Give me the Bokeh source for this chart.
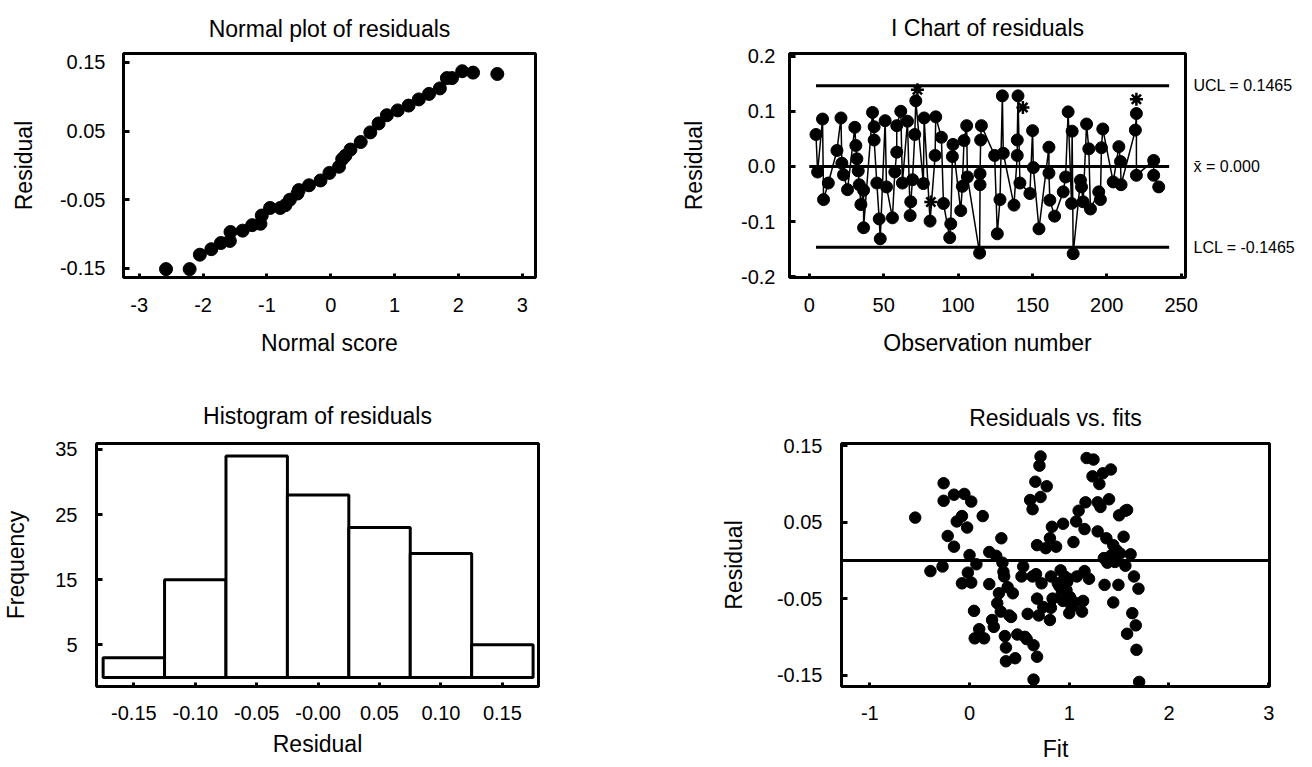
from bokeh.plotting import figure
from bokeh.models import (Range1d, FixedTicker, PrintfTickFormatter, Span, LinearAxis,
                          ColumnDataSource)
from bokeh.layouts import column, row
from bokeh.embed import file_html
from bokeh.resources import INLINE

FONT = "Liberation Sans"

# ---------------- data ----------------
# Normal probability plot
normal_score = [-2.58, -2.21, -2.05, -1.87, -1.72, -1.58, -1.57, -1.38, -1.23, -1.10,
                -1.08, -0.95, -0.79, -0.71, -0.64, -0.52, -0.50, -0.34, -0.16, -0.02,
                0.13, 0.18, 0.23, 0.31, 0.47, 0.62, 0.75, 0.88, 1.05, 1.22,
                1.38, 1.54, 1.71, 1.82, 1.90, 2.06, 2.23, 2.61]
normal_resid = [-0.151, -0.151, -0.130, -0.122, -0.113, -0.110, -0.097, -0.095, -0.087, -0.085,
                -0.073, -0.062, -0.062, -0.058, -0.050, -0.041, -0.036, -0.029, -0.022, -0.011,
                -0.002, 0.009, 0.014, 0.023, 0.034, 0.048, 0.061, 0.073, 0.080, 0.087,
                0.096, 0.104, 0.112, 0.127, 0.127, 0.137, 0.135, 0.133]

# I chart
obs_number = [4.5, 5.6, 8.9, 9.6, 12.8, 18.6, 21.3, 21.9, 23.0, 25.7,
              30.6, 31.3, 32.0, 32.9, 33.6, 34.7, 36.5, 36.5, 42.5, 43.6,
              43.6, 45.4, 47.0, 47.7, 51.0, 51.9, 55.9, 57.5, 58.8, 58.8,
              61.5, 62.6, 66.0, 67.8, 68.2, 69.4, 70.9, 71.6, 76.7, 77.2,
              81.2, 84.6, 85.0, 88.8, 90.2, 94.4, 95.1, 96.2, 96.6, 101.8,
              102.9, 104.0, 105.8, 106.3, 114.5, 114.8, 114.8, 115.2, 115.7, 124.6,
              126.4, 128.2, 129.8, 130.4, 137.6, 139.8, 139.8, 140.3, 141.6, 148.3,
              150.1, 150.6, 154.4, 161.1, 161.1, 161.7, 164.9, 170.7, 172.3, 174.0,
              176.3, 176.7, 177.4, 182.3, 183.0, 184.1, 186.4, 187.9, 189.0, 194.6,
              195.7, 196.4, 197.3, 204.3, 208.1, 209.2, 209.6, 219.2, 219.9, 219.9,
              231.5, 231.5, 234.9]
obs_resid = [0.058, -0.010, 0.086, -0.060, -0.030, 0.029, 0.088, 0.006, -0.015, -0.042,
             0.071, 0.038, 0.014, -0.008, -0.033, -0.069, -0.043, -0.111, 0.098, 0.072,
             0.048, -0.030, -0.095, -0.131, 0.083, -0.037, -0.093, -0.010, 0.026, 0.074,
             0.100, -0.030, 0.082, -0.089, -0.064, -0.024, 0.058, 0.119, -0.031, 0.088,
             -0.099, 0.020, 0.090, 0.053, -0.067, -0.129, -0.104, 0.018, 0.040, -0.080,
             -0.036, 0.047, 0.074, -0.019, -0.157, -0.033, -0.013, 0.048, 0.074, 0.020,
             -0.122, -0.060, 0.128, 0.024, -0.070, 0.020, 0.048, 0.128, -0.030, -0.049,
             0.065, -0.002, -0.113, 0.035, -0.012, -0.061, -0.090, -0.046, -0.019, 0.099,
             -0.067, 0.064, -0.158, -0.025, -0.037, -0.064, 0.077, 0.032, -0.077, -0.046,
             -0.060, 0.034, 0.068, -0.028, 0.036, 0.009, -0.033, 0.066, 0.096, -0.016,
             0.011, -0.016, -0.037]
flag_obs = [72.7, 81.7, 143.6, 219.9]
flag_resid = [0.139, -0.0645, 0.107, 0.122]
UCL = 0.1465
CL = 0.0
LCL = -0.1465
control_labels = ["UCL = 0.1465", "x\u0304 = 0.000", "LCL = -0.1465"]

# Histogram
bin_centers = [-0.15, -0.10, -0.05, 0.0, 0.05, 0.10, 0.15]
bin_width = 0.05
bin_freq = [3, 15, 34, 28, 23, 19, 5]

# Residuals vs fits
fits = [-0.545, -0.392, -0.271, -0.260, -0.260, -0.219, -0.156, -0.156, -0.128, -0.076,
        -0.052, -0.024, 0.017, -0.076, -0.017, 0.000, 0.017, 0.069, 0.132, 0.045,
        0.052, 0.097, 0.146, 0.198, 0.198, 0.226, 0.243, 0.267, 0.278, 0.295,
        0.313, 0.319, 0.330, 0.340, 0.347, 0.354, 0.365, 0.365, 0.382, 0.399,
        0.417, 0.434, 0.458, 0.479, 0.521, 0.538, 0.556, 0.573, 0.583, 0.608,
        0.632, 0.632, 0.642, 0.642, 0.660, 0.667, 0.677, 0.677, 0.677, 0.694,
        0.701, 0.712, 0.712, 0.722, 0.740, 0.764, 0.774, 0.806, 0.816, 0.816,
        0.826, 0.806, 0.833, 0.868, 0.885, 0.903, 0.913, 0.927, 0.938, 0.938,
        0.955, 0.972, 0.979, 0.990, 1.000, 1.007, 1.024, 1.042, 1.052, 1.069,
        1.076, 1.094, 1.128, 1.139, 1.153, 1.153, 1.163, 1.198, 1.174, 1.233,
        1.243, 1.285, 1.285, 1.302, 1.313, 1.337, 1.347, 1.354, 1.372, 1.382,
        1.399, 1.417, 1.424, 1.441, 1.441, 1.458, 1.476, 1.493, 1.500, 1.510,
        1.545, 1.563, 1.563, 1.580, 1.580, 1.615, 1.632, 1.649, 1.667, 1.674,
        1.694, 1.701]
fit_resid = [0.056, -0.014, -0.008, 0.101, 0.078, 0.032, 0.086, 0.018, 0.051, 0.058,
             0.087, 0.043, 0.077, -0.030, -0.016, 0.007, -0.029, -0.005, 0.058, -0.066,
             -0.102, -0.090, -0.102, 0.011, -0.031, -0.078, -0.087, 0.006, -0.056, -0.043,
             -0.067, 0.029, -0.003, -0.015, -0.021, -0.099, -0.114, -0.132, -0.035, -0.072,
             -0.074, -0.043, -0.128, -0.097, -0.021, -0.008, -0.100, -0.103, -0.070, 0.079,
             0.067, -0.021, -0.111, -0.156, 0.103, -0.018, -0.126, -0.050, 0.020, -0.072,
             0.124, 0.136, 0.083, -0.030, -0.061, 0.016, 0.097, 0.029, -0.021, -0.062,
             0.044, -0.078, -0.050, 0.018, -0.030, -0.034, -0.013, -0.042, 0.048, -0.053,
             -0.021, -0.039, -0.028, -0.024, -0.069, -0.048, -0.061, 0.024, -0.055, 0.051,
             -0.021, 0.065, -0.067, -0.053, 0.041, -0.014, 0.076, -0.024, 0.134, 0.110,
             0.132, 0.038, 0.076, 0.100, 0.070, 0.114, 0.003, -0.032, 0.029, -0.003,
             0.080, 0.119, 0.007, 0.020, -0.055, -0.002, 0.013, -0.032, 0.059, 0.009,
             0.031, 0.065, -0.007, 0.066, -0.096, 0.008, -0.069, -0.021, -0.085, -0.117,
             -0.037, -0.159]

# tick values
p1_xticks = [-3, -2, -1, 0, 1, 2, 3]
p1_yticks = [-0.15, -0.05, 0.05, 0.15]
p2_xticks = [0, 50, 100, 150, 200, 250]
p2_yticks = [-0.2, -0.1, 0.0, 0.1, 0.2]
p3_xticks = [-0.15, -0.10, -0.05, 0.0, 0.05, 0.10, 0.15]
p3_yticks = [5, 15, 25, 35]
p4_xticks = [-1, 0, 1, 2, 3]
p4_yticks = [-0.15, -0.05, 0.05, 0.15]


def make_fig(title, w, h, xr, yr, borders, title_standoff):
    p = figure(width=w, height=h, title=title,
               x_range=Range1d(*xr), y_range=Range1d(*yr),
               output_backend="svg", toolbar_location=None,
               min_border_left=borders[0], min_border_right=borders[1],
               min_border_top=borders[2], min_border_bottom=borders[3])
    p.background_fill_color = "white"
    p.border_fill_color = "white"
    p.outline_line_color = "black"
    p.outline_line_width = 3
    p.outline_line_alpha = 1.0
    p.xgrid.visible = False
    p.ygrid.visible = False
    p.title.text_font = FONT
    p.title.text_font_size = "23px"
    p.title.text_font_style = "normal"
    p.title.text_color = "black"
    p.title.align = "center"
    p.title.standoff = title_standoff
    return p


def style_axis(ax, ticks, label, fmt, tick_in, lbl_standoff, axlbl_standoff):
    ax.ticker = FixedTicker(ticks=ticks)
    ax.formatter = PrintfTickFormatter(format=fmt)
    ax.axis_label = label
    ax.axis_line_color = None
    ax.major_tick_line_color = "black"
    ax.major_tick_line_width = 3
    ax.major_tick_in = tick_in
    ax.major_tick_out = 0
    ax.minor_tick_line_color = None
    ax.major_label_text_font = FONT
    ax.major_label_text_font_size = "20px"
    ax.major_label_text_color = "black"
    ax.major_label_standoff = lbl_standoff
    ax.axis_label_text_font = FONT
    ax.axis_label_text_font_size = "23px"
    ax.axis_label_text_font_style = "normal"
    ax.axis_label_text_color = "black"
    ax.axis_label_standoff = axlbl_standoff


W_LEFT, W_RIGHT = 620, 690
H_TOP, H_BOT = 380, 387

# ---- Panel 1: normal plot ----
p1 = make_fig("Normal plot of residuals", W_LEFT, H_TOP, (-3.246, 3.208), (-0.1632, 0.1628),
              (123, 85, 50, 101), 23)
style_axis(p1.xaxis[0], p1_xticks, "Normal score", "%d", 4, 20, 15)
style_axis(p1.yaxis[0], p1_yticks, "Residual", "%.2f", 6, 18, 20)
p1.scatter(normal_score, normal_resid, marker="circle", size=13,
           fill_color="black", line_color="black")

# ---- Panel 2: I chart ----
p2 = make_fig("I Chart of residuals", W_RIGHT, H_TOP, (-13.3, 252.9), (-0.2012, 0.2048),
              (169, 125, 52, 103), 25)
style_axis(p2.xaxis[0], p2_xticks, "Observation number", "%d", 4, 20, 15)
style_axis(p2.yaxis[0], p2_yticks, "Residual", "%.1f", 6, 14, 31)
x_lo = min(obs_number)
x_hi = max(obs_number) + 7
for lvl in (UCL, CL, LCL):
    p2.line([x_lo if lvl != CL else 0, x_hi], [lvl, lvl], line_color="black", line_width=3)
p2.line(obs_number, obs_resid, line_color="black", line_width=1.5)
p2.scatter(obs_number, obs_resid, marker="circle", size=12,
           fill_color="black", line_color="black")
p2.scatter(flag_obs, flag_resid, marker="asterisk", size=13,
           line_color="black", line_width=2.5)
ctrl_axis = LinearAxis(ticker=FixedTicker(ticks=[UCL, CL, LCL]),
                       major_label_overrides=dict(zip([UCL, CL, LCL], control_labels)))
ctrl_axis.axis_line_color = None
ctrl_axis.major_tick_line_color = None
ctrl_axis.minor_tick_line_color = None
ctrl_axis.major_tick_in = 0
ctrl_axis.major_tick_out = 0
ctrl_axis.major_label_standoff = 8
ctrl_axis.major_label_text_font = FONT
ctrl_axis.major_label_text_font_size = "16px"
ctrl_axis.major_label_text_color = "black"
p2.add_layout(ctrl_axis, "right")

# ---- Panel 3: histogram ----
p3 = make_fig("Histogram of residuals", W_LEFT, H_BOT, (-0.1804, 0.1794), (-1.4, 35.9),
              (95, 82, 59, 76), 29)
style_axis(p3.xaxis[0], p3_xticks, "Residual", "%.2f", 4, 19, 8)
p3.xaxis[0].major_label_overrides = {0.0: "-0.00"}
style_axis(p3.yaxis[0], p3_yticks, "Frequency", "%d", 6, 19, 23)
hist_src = ColumnDataSource(dict(
    left=[c - bin_width / 2 for c in bin_centers],
    right=[c + bin_width / 2 for c in bin_centers],
    top=bin_freq,
    bottom=[0] * len(bin_freq)))
p3.quad(left="left", right="right", top="top", bottom="bottom", source=hist_src,
        fill_color="white", line_color="black", line_width=3)

# ---- Panel 4: residuals vs fits ----
p4 = make_fig("Residuals vs. fits", W_RIGHT, H_BOT, (-1.284, 3.008), (-0.165, 0.153),
              (221, 41, 63, 81), 25)
style_axis(p4.xaxis[0], p4_xticks, "Fit", "%d", 4, 19, 13)
style_axis(p4.yaxis[0], p4_yticks, "Residual", "%.2f", 6, 19, 27)
p4.add_layout(Span(location=0, dimension="width", line_color="black", line_width=3))
p4.scatter(fits, fit_resid, marker="circle", size=11.5,
           fill_color="black", line_color="black")

layout = column(row(p1, p2), row(p3, p4))

with open("out.html", "w") as f:
    f.write(file_html(layout, INLINE))
